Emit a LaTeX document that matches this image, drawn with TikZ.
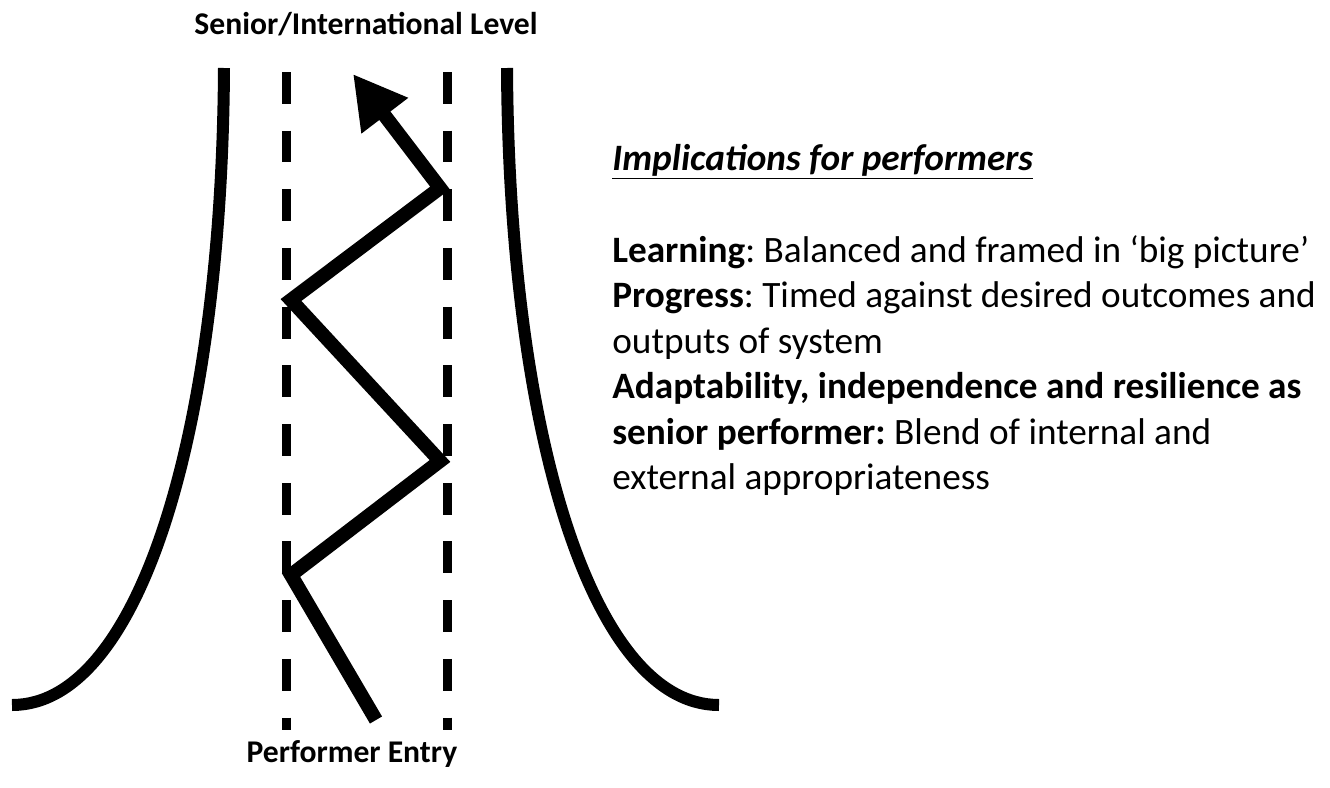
\documentclass[tikz,border=0pt]{standalone}
\usepackage{fontspec}
\setmainfont{Carlito}
\usetikzlibrary{arrows.meta}
\frenchspacing

\begin{document}
\begin{tikzpicture}[x=0.02cm, y=-0.02cm,
    bound/.style={line width=0.24cm},
    lane/.style={line width=0.18cm, dash pattern=on 18.1pt off 15.3pt},
    route/.style={line width=0.28cm, line join=miter},
    lbl/.style={font=\fontsize{18}{22}\selectfont\bfseries, inner sep=0pt, anchor=base},
    txt/.style={font=\fontsize{21.2}{25.9}\selectfont, inner sep=0pt, anchor=base west}]
        \useasboundingbox (0,0) rectangle (1330,788);

        % level labels
        \node[lbl] (senior) at (366,34) {Senior/International Level};
        \node[lbl] (entry) at (352,762) {Performer Entry};

        % pathway edges
        \draw[bound] (224,68) .. controls (222,430) and (140,705) .. (12,705);
        \draw[bound] (507,68) .. controls (509,430) and (591,705) .. (719,705);

        % lanes
        \coordinate (laneLtop) at (286,72);
        \coordinate (laneLbot) at (286,730);
        \coordinate (laneRtop) at (447,72);
        \coordinate (laneRbot) at (447,730);
        \draw[lane] (laneLtop) -- (laneLbot);
        \draw[lane] (laneRtop) -- (laneRbot);

        % performer route
        \coordinate (start) at (376,720);
        \coordinate (turn1) at (291,575);
        \coordinate (turn2) at (440,461);
        \coordinate (turn3) at (291,300);
        \coordinate (turn4) at (440,188);
        \coordinate (goal) at (353,74);
        \draw[route, -{Triangle[length=1.05cm, width=1.1cm]}] (start) -- (turn1) -- (turn2) -- (turn3) -- (turn4) -- (goal);

        % implications
        \node[txt] (impl) at (612,170) {\underline{\textbf{\textit{Implications for performers}}}};
        \node[txt] (learn) at (612,262) {\textbf{Learning}: Balanced and framed in ‘big picture’};
        \node[txt] (prog) at (612,307) {\textbf{Progress}: Timed against desired outcomes and};
        \node[txt] (prog2) at (612,353) {outputs of system};
        \node[txt] (adapt) at (612,398) {\textbf{Adaptability, independence and resilience as}};
        \node[txt] (adapt2) at (612,444) {\textbf{senior performer:} Blend of internal and};
        \node[txt] (adapt3) at (612,489) {external appropriateness};
    \end{tikzpicture}
\end{document}
